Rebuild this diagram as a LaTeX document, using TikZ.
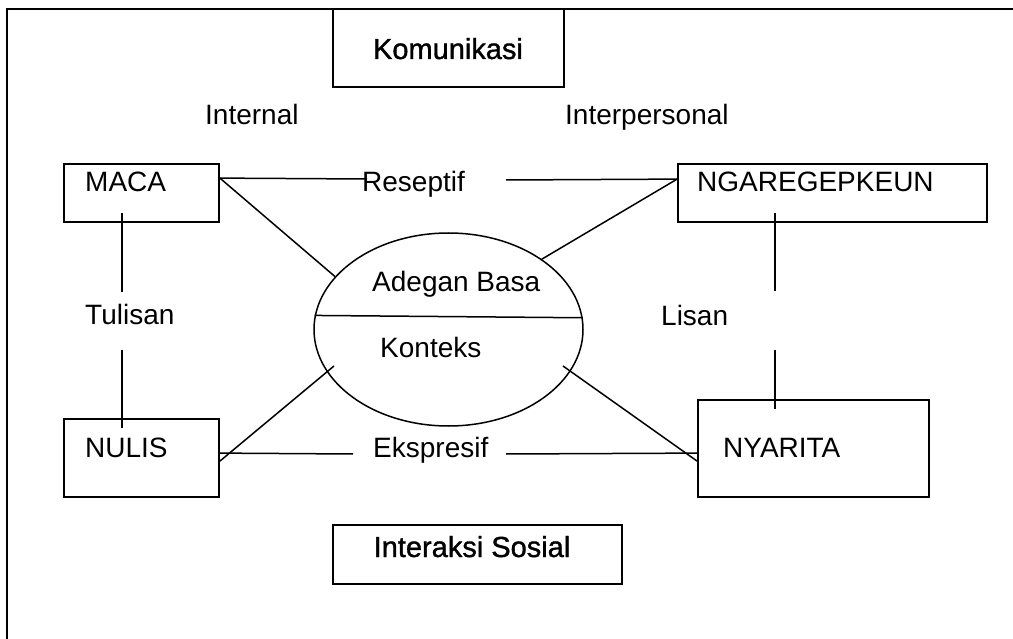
\documentclass[tikz,border=0pt]{standalone}
\usepackage{fontspec}
\setmainfont{Liberation Sans}
\newfontfamily\titlefont[FakeBold=1.2]{Liberation Sans}
\usetikzlibrary{shapes.geometric}
\tikzset{
  box/.style={draw, line width=1.8pt, inner sep=0pt, minimum width=#1},
  lbl/.style={anchor=base west, inner sep=0pt, font=\fontsize{28pt}{32pt}\selectfont},
  ttl/.style={anchor=base, inner sep=0pt, font=\titlefont\fontsize{29pt}{32pt}\selectfont},
  conn/.style={line width=1.5pt},
}
\begin{document}
\begin{tikzpicture}[x=1pt,y=-1pt]
\useasboundingbox (0,0) rectangle (1013,639);
% frame
\coordinate (fb) at (7,639);
\coordinate (ftl) at (7,9);
\coordinate (fr) at (1013,9);
\draw[line width=2.5pt] (fb) -- (ftl) -- (fr);
% boxes
\node[box=231pt, minimum height=78pt] (kom) at (448.5,48) {};
\node[box=155pt, minimum height=58pt] (maca) at (141.5,193) {};
\node[box=309pt, minimum height=58pt] (ngar) at (832.5,193) {};
\node[box=155pt, minimum height=78pt] (nulis) at (141.5,458) {};
\node[box=231pt, minimum height=97pt] (nyar) at (813.5,448.5) {};
\node[box=289pt, minimum height=59pt] (inter) at (477.5,554.5) {};
\node[draw, ellipse, line width=1.5pt, inner sep=0pt, minimum width=269pt, minimum height=193pt] (ell) at (448.5,329.5) {};
% texts
\node[ttl] (komt) at (448,59) {Komunikasi};
\node[ttl] (intert) at (472,557) {Interaksi Sosial};
\node[lbl] (internal) at (205,125) {Internal};
\node[lbl] (interp) at (565,125) {Interpersonal};
\node[lbl] (macat) at (85,192) {MACA};
\node[lbl] (resep) at (362,192) {Reseptif};
\node[lbl] (ngart) at (697,192) {NGAREGEPKEUN};
\node[lbl] (adegan) at (372,292) {Adegan Basa};
\node[lbl] (konteks) at (380,357) {Konteks};
\node[lbl] (tulisan) at (85,325) {Tulisan};
\node[lbl] (lisan) at (661,326) {Lisan};
\node[lbl] (nulist) at (85,457) {NULIS};
\node[lbl] (ekspr) at (373,457) {Ekspresif};
\node[lbl] (nyart) at (723,457) {NYARITA};
% free ends
\coordinate (rl) at (367,179);
\coordinate (rr) at (506,180);
\coordinate (el) at (353,454);
\coordinate (er) at (506,454);
\coordinate (tl1) at (122,213);
\coordinate (tl2) at (122,292);
\coordinate (tl3) at (122,350);
\coordinate (tl4) at (122,428);
\coordinate (ls1) at (775,213);
\coordinate (ls2) at (775,291);
\coordinate (ls3) at (775,350);
\coordinate (ls4) at (775,409);
\coordinate (nl) at (334,366);
\coordinate (nr) at (563,366);
% divider
\draw[conn] (ell.174.65) -- (ell.5.35);
% connectors
\draw[conn] ([yshift=-15pt]maca.north east) -- (rl);
\draw[conn] (rr) -- ([yshift=-16pt]ngar.north west);
\draw[conn] ([yshift=-15pt]maca.north east) -- (ell.155);
\draw[conn] ([yshift=-16pt]ngar.north west) -- (ell.37);
\draw[conn] (tl1) -- (tl2);
\draw[conn] (tl3) -- (tl4);
\draw[conn] (ls1) -- (ls2);
\draw[conn] (ls3) -- (ls4);
\draw[conn] ([yshift=-43pt]nulis.north east) -- (nl);
\draw[conn] ([yshift=-35pt]nulis.north east) -- (el);
\draw[conn] (er) -- ([yshift=-54pt]nyar.north west);
\draw[conn] (nr) -- ([yshift=-62pt]nyar.north west);
\end{tikzpicture}
\end{document}
